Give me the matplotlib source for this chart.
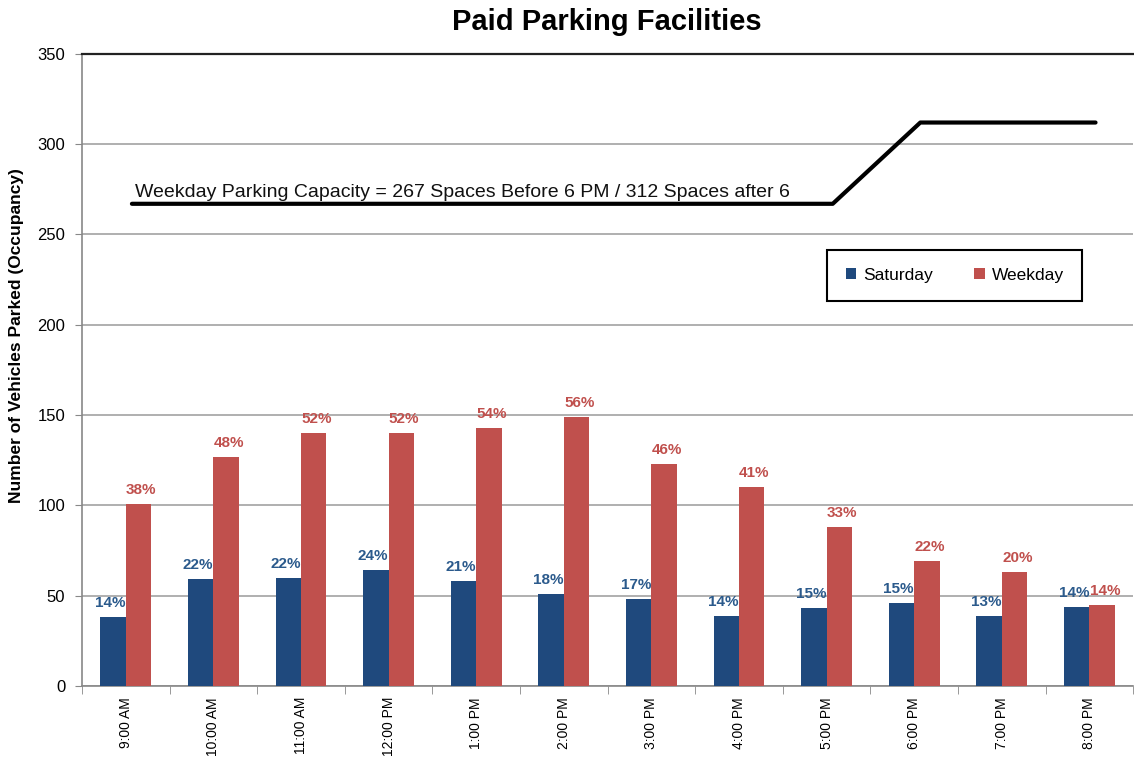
import numpy as np
import matplotlib
matplotlib.use('Agg')
import matplotlib.pyplot as plt
from matplotlib.ticker import FixedLocator

plt.rcParams['font.family'] = ['Liberation Sans', 'DejaVu Sans']

# data
times = ['9:00 AM', '10:00 AM', '11:00 AM', '12:00 PM', '1:00 PM', '2:00 PM',
         '3:00 PM', '4:00 PM', '5:00 PM', '6:00 PM', '7:00 PM', '8:00 PM']
saturday = [38, 59, 60, 64, 58, 51, 48, 39, 43, 46, 39, 44]
weekday = [101, 127, 140, 140, 143, 149, 123, 110, 88, 69, 63, 45]
saturday_pct = [14, 22, 22, 24, 21, 18, 17, 14, 15, 15, 13, 14]
weekday_pct = [38, 48, 52, 52, 54, 56, 46, 41, 33, 22, 20, 14]
capacity = [267, 267, 267, 267, 267, 267, 267, 267, 267, 312, 312, 312]

blue = '#1F497D'
red = '#C0504D'

fig = plt.figure(figsize=(11.34, 7.57), dpi=100)
ax = fig.add_axes([0.0723, 0.0938, 0.927, 0.835])

x = np.arange(len(times))
w = 0.29
b1 = ax.bar(x - w / 2, saturday, w, color=blue, label='Saturday', zorder=3)
b2 = ax.bar(x + w / 2, weekday, w, color=red, label='Weekday', zorder=3)

# percentage labels, nudged a little outward like the original
for rect, p in zip(b1, saturday_pct):
    ax.annotate(f'{p}%', (rect.get_x() + rect.get_width() / 2, rect.get_height()),
                xytext=(-2, 5), textcoords='offset points', ha='center', va='bottom',
                color='#2B5A8C', fontsize=11, fontweight='bold', zorder=4)
for rect, p in zip(b2, weekday_pct):
    ax.annotate(f'{p}%', (rect.get_x() + rect.get_width() / 2, rect.get_height()),
                xytext=(2, 5), textcoords='offset points', ha='center', va='bottom',
                color=red, fontsize=11, fontweight='bold', zorder=4)

ax.plot(x + 0.07, capacity, color='black', lw=3, zorder=4, solid_capstyle='round')
ax.text(0.1, 271, 'Weekday Parking Capacity = 267 Spaces Before 6 PM / 312 Spaces after 6',
        fontsize=14, ha='left', va='baseline', color='#111111')

ax.set_xlim(-0.5, len(times) - 0.5)
ax.set_ylim(0, 350)
ax.set_yticks(range(0, 351, 50))
ax.yaxis.grid(True, color='#9a9a9a', lw=1.1, zorder=0)
ax.set_axisbelow(True)

ax.set_xticks(x)
ax.set_xticklabels(times, rotation=90, fontsize=10)
ax.xaxis.set_minor_locator(FixedLocator(np.arange(-0.5, len(times), 1)))
ax.tick_params(axis='x', which='major', length=0, pad=8)
ax.tick_params(axis='x', which='minor', length=6, color='#888888')
ax.tick_params(axis='y', length=5, color='#888888', labelsize=12, pad=7)

for s in ['left', 'bottom']:
    ax.spines[s].set_color('#888888')
    ax.spines[s].set_linewidth(1.2)
ax.spines['right'].set_visible(False)
ax.spines['top'].set_color('#222222')
ax.spines['top'].set_linewidth(1.6)

ax.set_ylabel('Number of Vehicles Parked (Occupancy)', fontsize=12.5, fontweight='bold')
ax.yaxis.set_label_coords(-0.055, 0.555)
fig.text(0.535, 0.971, 'Paid Parking Facilities', fontsize=21, fontweight='bold',
         ha='center', va='center')

leg = ax.legend(loc='upper left', bbox_to_anchor=(0.709, 0.69), ncol=2, fontsize=12.5,
                handlelength=0.6, handleheight=0.6, handletextpad=0.4, columnspacing=2.4,
                fancybox=False, framealpha=1, edgecolor='black', borderpad=1.05,
                borderaxespad=0)
leg.get_frame().set_linewidth(1.5)

fig.savefig('out.png', dpi=100)
